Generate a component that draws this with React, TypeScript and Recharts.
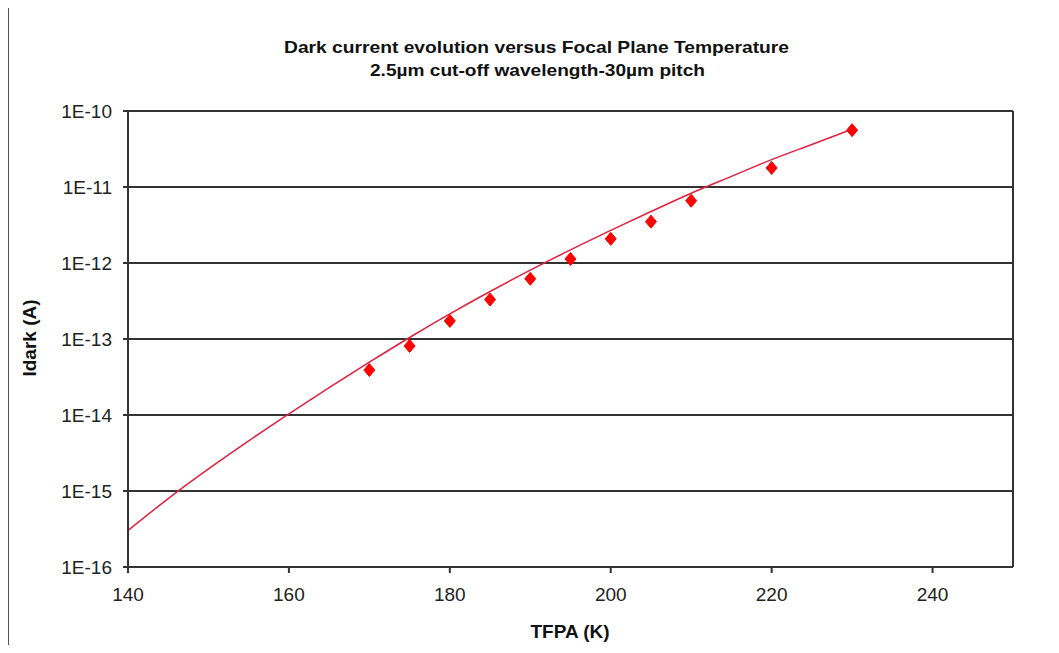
import React from "react"
import {
  ComposedChart,
  Line,
  Scatter,
  XAxis,
  YAxis,
  CartesianGrid,
  ReferenceLine,
} from "recharts"

// fitted model curve, Idark (A) vs focal plane temperature (K)
const curveTemps = [140, 145, 150, 155, 160, 165, 170, 175, 180, 185, 190, 195, 200, 205, 210, 215, 220, 225, 230]
const curveIdark = [
  3.02e-16, 7.94e-16, 1.95e-15, 4.57e-15, 1.035e-14, 2.29e-14, 4.95e-14, 1.047e-13, 2.14e-13, 4.22e-13,
  8.04e-13, 1.49e-12, 2.69e-12, 4.76e-12, 8.28e-12, 1.38e-11, 2.29e-11, 3.63e-11, 5.75e-11,
]

// measured points
const measTemps = [170, 175, 180, 185, 190, 195, 200, 205, 210, 220, 230]
const measIdark = [3.9e-14, 8.1e-14, 1.73e-13, 3.3e-13, 6.2e-13, 1.13e-12, 2.08e-12, 3.5e-12, 6.6e-12, 1.78e-11, 5.6e-11]

const xTicks = [140, 160, 180, 200, 220, 240]
const yTicks = [1e-16, 1e-15, 1e-14, 1e-13, 1e-12, 1e-11, 1e-10]

const curve = curveTemps.map((t, i) => ({ t, idark: curveIdark[i] }))
const measured = measTemps.map((t, i) => ({ t, idark: measIdark[i] }))

const FONT = '"Liberation Sans", Arial, sans-serif'
const GRID = "#333"

const formatExp = (v: number) => `1E${Math.round(Math.log10(v))}`

const Diamond = (props: any) => {
  const { cx, cy } = props
  if (cx == null || cy == null) return null
  return (
    <polygon
      points={`${cx},${cy - 6.5} ${cx + 5.5},${cy} ${cx},${cy + 6.5} ${cx - 5.5},${cy}`}
      fill="#ff0000"
      stroke="#ff0000"
    />
  )
}

export default function App() {
  return (
    <div style={{ position: "relative", width: 1059, height: 653, margin: -8, background: "#fff", overflow: "hidden" }}>
      {/* outer chart frame */}
      <div
        style={{
          position: "absolute",
          left: 7,
          top: 4,
          width: 1100,
          height: 644,
          borderLeft: "2px solid #555",
          borderTop: "2px solid #555",
          boxSizing: "border-box",
        }}
      />
      <div style={{ position: "absolute", left: 0, top: 648, width: 1059, height: 5, background: "#f3f3f3" }} />

      <div style={{ position: "absolute", left: 0, top: 0 }}>
        <ComposedChart width={1059} height={653} margin={{ top: 111, right: 46, bottom: 46, left: 0 }}>
          <CartesianGrid horizontal vertical={false} stroke={GRID} strokeWidth={2} />
          <XAxis
            dataKey="t"
            type="number"
            domain={[140, 250]}
            ticks={xTicks}
            allowDataOverflow
            height={40}
            tickSize={6}
            tickMargin={15}
            axisLine={{ stroke: GRID, strokeWidth: 2 }}
            tickLine={{ stroke: GRID, strokeWidth: 2 }}
            tick={{ fill: "#222", fontSize: 19, fontFamily: FONT }}
          />
          <YAxis
            type="number"
            scale="log"
            domain={[1e-16, 1e-10]}
            ticks={yTicks}
            allowDataOverflow
            width={128}
            tickSize={5}
            tickMargin={11}
            tickFormatter={formatExp}
            axisLine={{ stroke: GRID, strokeWidth: 2 }}
            tickLine={{ stroke: GRID, strokeWidth: 2 }}
            tick={{ fill: "#222", fontSize: 19, fontFamily: FONT }}
          />
          <ReferenceLine x={250} stroke={GRID} strokeWidth={2} />
          <Scatter data={measured} dataKey="idark" shape={<Diamond />} isAnimationActive={false} />
          <Line
            data={curve}
            dataKey="idark"
            type="monotone"
            stroke="#e0203c"
            strokeWidth={1.5}
            dot={false}
            activeDot={false}
            isAnimationActive={false}
          />
        </ComposedChart>
      </div>

      <svg
        width={1059}
        height={653}
        style={{ position: "absolute", left: 0, top: 0, pointerEvents: "none" }}
        fontFamily={FONT}
        fontWeight="bold"
        fill="#111"
      >
        <text x={284} y={53} fontSize={17} textLength={505} lengthAdjust="spacingAndGlyphs">
          Dark current evolution versus Focal Plane Temperature
        </text>
        <text x={370} y={76} fontSize={17} textLength={335} lengthAdjust="spacingAndGlyphs">
          2.5µm cut-off wavelength-30µm pitch
        </text>
        <text x={570} y={638} fontSize={19} textAnchor="middle">
          TFPA (K)
        </text>
        <text x={36} y={338} fontSize={19} textAnchor="middle" transform="rotate(-90 36 338)">
          Idark (A)
        </text>
      </svg>
    </div>
  )
}
